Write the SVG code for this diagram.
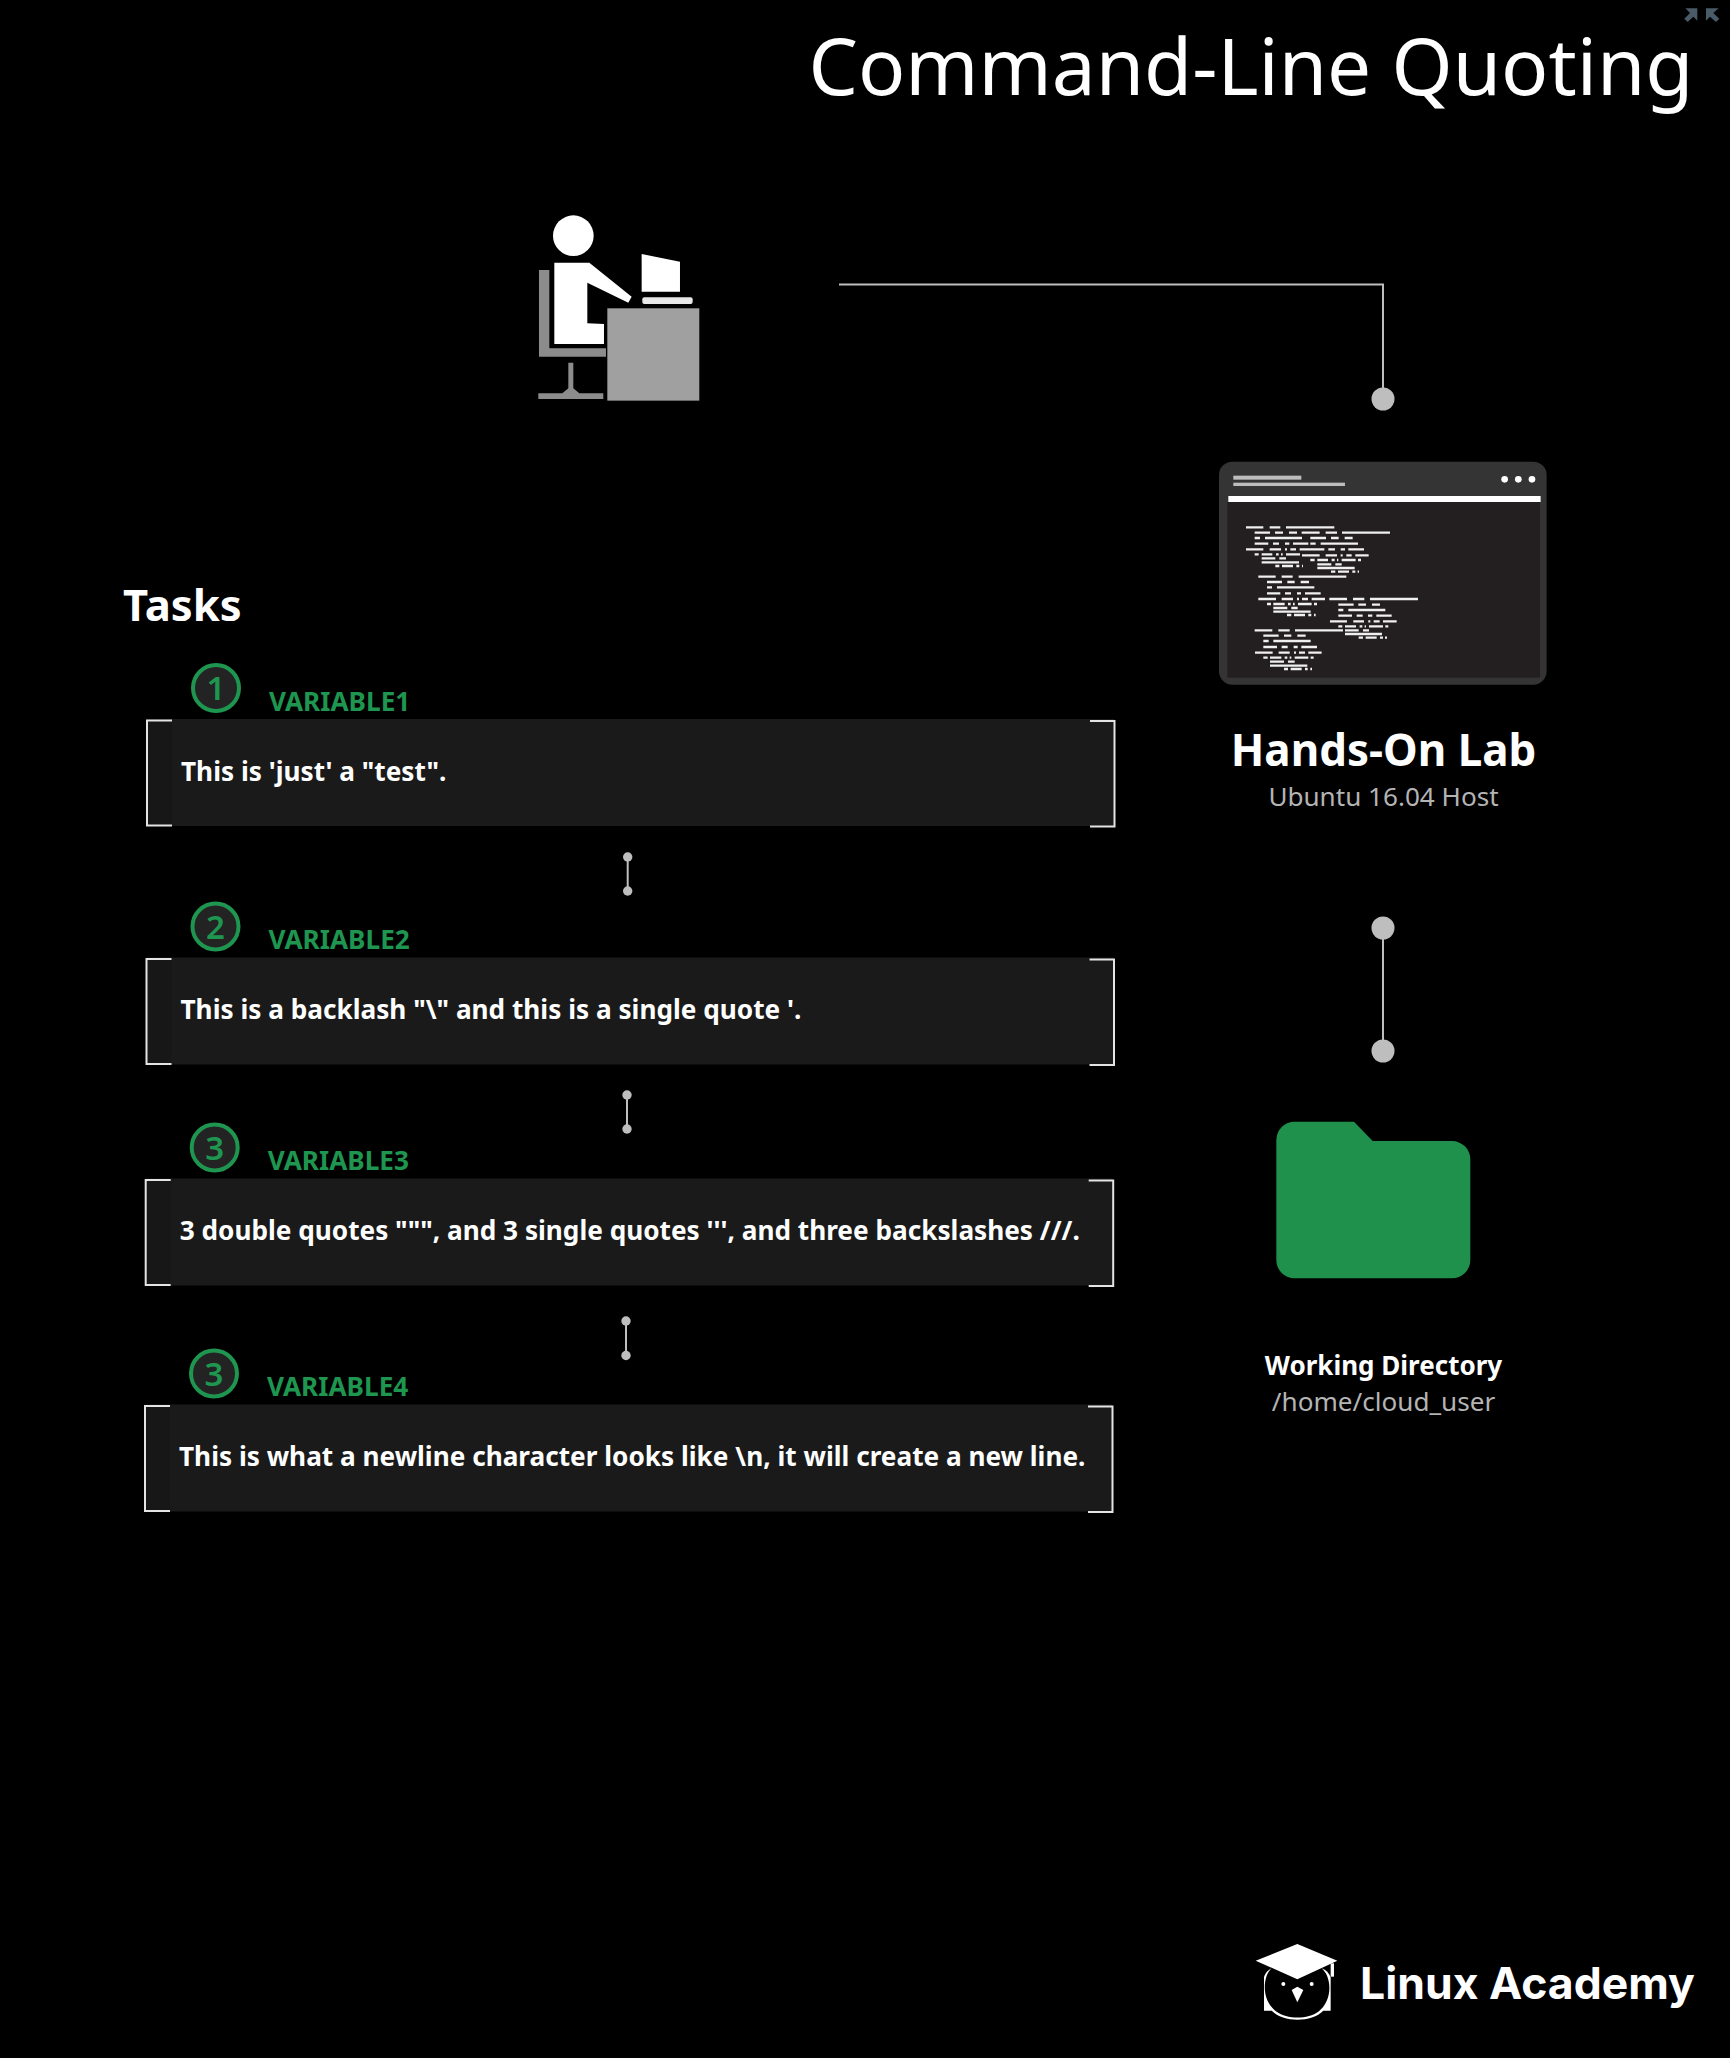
<svg xmlns="http://www.w3.org/2000/svg" width="1730" height="2058" viewBox="0 0 1730 2058">
<style>
text{font-family:"Noto Sans","Open Sans",sans-serif}
.title{font-size:78.300px;fill:#fff}
.tasks{font-size:43.600px;font-weight:700;fill:#fff}
.body{font-size:26.200px;font-weight:700;fill:#fff}
.var{font-size:26.200px;font-weight:700;fill:#1e9650}
.num{font-size:33px;font-weight:600;fill:#1e9650;text-anchor:middle}
.mid{text-anchor:middle}
.h{font-size:43.900px;font-weight:700;fill:#fff}
.sub{font-size:26.100px;fill:#b4b4b4}
.wd{font-size:26px;font-weight:700;fill:#fff}
.brk{fill:none;stroke:#e4e4e4;stroke-width:2}
.conn{fill:none;stroke:#bebebe;stroke-width:2}
.dot{fill:#bebebe}
.cir{fill:#232323;stroke:#1e9650;stroke-width:4}
.band{fill:#1a1a1a}
.edge{fill:#171717}
</style>
<defs>
<g id="box">
<rect class="edge" x="147" y="719" width="26" height="107"/>
<rect class="band" x="172" y="719" width="942" height="107"/>
<path class="brk" d="M172,720.500H147V825.500H172"/>
<path class="brk" d="M1090,721H1114.500V826.500H1090"/>
<circle class="cir" cx="216" cy="688" r="23"/>
</g>
</defs>
<rect width="1730" height="2058" fill="#000"/>
<g id="connectors">
<path class="conn" d="M839,284.500H1383V399"/>
<circle class="dot" cx="1383" cy="399" r="11.500"/>
<path class="conn" d="M1383,928V1051"/>
<circle class="dot" cx="1383" cy="928" r="11.500"/>
<circle class="dot" cx="1383" cy="1051" r="11.500"/>
<path class="conn" d="M627.700,857V891"/>
<circle class="dot" cx="627.700" cy="857" r="4.700"/>
<circle class="dot" cx="627.700" cy="891" r="4.700"/>
<path class="conn" d="M627,1095V1129"/>
<circle class="dot" cx="627" cy="1095" r="4.700"/>
<circle class="dot" cx="627" cy="1129" r="4.700"/>
<path class="conn" d="M626,1321V1355.500"/>
<circle class="dot" cx="626" cy="1321" r="4.700"/>
<circle class="dot" cx="626" cy="1355.500" r="4.700"/>
</g>
<g id="collapse" transform="translate(1640 0) scale(.3333)" fill="#4a5a66">
<path d="M172,25V62L160,50L143,66L133,56L150,39L136,25Z"/>
<path d="M198,25V62L210,50L228,66L238,56L220,39L236,25Z"/>
</g>
<g id="title"><text class="title" x="808.500" y="95">Command-Line Quoting</text></g>
<g id="user" transform="translate(500 180) scale(.3333)">
<circle cx="220" cy="167" r="61" fill="#fff"/>
<path fill="#fff" d="M163,248H268L395,350L385,368L262,308V430L312,432V492H163Z"/>
<path fill="#fff" d="M425,222L540,245V335H425Z"/>
<rect x="427" y="352" width="151" height="20" rx="6" fill="#e8e8e8"/>
<path fill="#8c8c8c" d="M117,270H148V505H318V530H117Z"/>
<path fill="#8c8c8c" d="M205,548H220V625L238,640H310V657H115V640H187L205,625Z"/>
<rect x="322" y="385" width="276" height="277" fill="#a0a0a0"/>
</g>
<g id="terminal" transform="translate(1200 450) scale(.3333)">
<rect x="57" y="35" width="983" height="669" rx="40" fill="#343434"/>
<rect x="82" y="156" width="938" height="527" fill="#231f20"/>
<rect x="85" y="138" width="937" height="18" fill="#fff"/>
<rect x="100" y="77" width="204" height="12" fill="#bdbdbd"/>
<rect x="100" y="98" width="335" height="10" fill="#bdbdbd"/>
<circle cx="914" cy="88" r="10" fill="#fff"/><circle cx="955" cy="88" r="10" fill="#fff"/><circle cx="996" cy="88" r="10" fill="#fff"/>
<path fill="none" stroke="#f0f0f0" stroke-width="7" d="M138,232H190M209,232H241M258,232H403M164,248H210M225,248H249M267,248H291M305,248H359M377,248H411M426,248H570M164,264H180M195,264H306M331,264H378M393,264H416M434,264H458M164,281H205M219,281H237M255,281H268M279,281H325M331,281H347M362,281H474M138,298H190M209,298H243M255,298H261M271,298H288M299,298H373M385,298H405M422,298H435M445,298H492M164,313H176M185,313H217M228,313H236M243,313H248M258,313H300M306,316H359M377,316H411M422,316H428M439,316H455M466,316H506M185,325H226M238,325H258M331,330H344M352,330H384M395,330H404M411,330H415M425,330H467M474,330H483M185,337H297M352,343H394M406,343H425M226,348H238M246,348H279M289,348H298M306,348H309M352,354H464M393,365H406M414,365H447M457,365H466M473,365H477M175,380H227M245,380H278M296,380H439M201,396H246M262,396H284M302,396H327M201,412H216M231,412H343M201,430H241M255,430H273M291,430H303M315,430H362M175,447H228M245,447H279M291,447H297M306,447H324M335,447H375M388,447H441M459,447H493M510,447H654M201,462H213M220,462H254M264,462H272M279,462H284M294,462H335M342,462H351M415,464H461M475,464H498M516,464H540M220,474H262M274,474H293M415,480H430M445,480H556M220,485H332M261,495H274M282,495H315M325,495H334M342,495H347M415,497H456M470,497H488M504,497H517M529,497H575M390,514H441M460,514H492M505,514H511M521,514H539M549,514H590M415,529H427M435,529H468M479,529H487M494,529H498M507,529H549M556,529H565M164,541H217M235,541H269M285,541H429M435,541H476M489,541H507M435,552H546M190,557H236M252,557H274M292,557H317M476,563H489M497,563H530M540,563H549M555,563H561M190,573H206M220,573H332M190,591H231M245,591H263M281,591H293M304,591H351M165,608H218M236,608H269M282,608H288M297,608H315M325,608H365M190,623H203M210,623H244M254,623H262M269,623H274M284,623H325M332,623H341M210,635H252M264,635H284M210,647H322M252,657H264M272,657H305M315,657H323M331,657H336"/>
</g>
<g id="lab">
<text class="h mid" x="1383.500" y="766">Hands-On Lab</text>
<text class="sub mid" x="1383.500" y="805.500">Ubuntu 16.04 Host</text>
</g>
<g id="folder" transform="translate(1250 1100) scale(.3333)">
<path fill="#1f914d" d="M134,65H312L368,123H606A55,55 0 0 1 661,178V480A55,55 0 0 1 606,535H134A55,55 0 0 1 79,480V120A55,55 0 0 1 134,65Z"/>
</g>
<g id="workdir">
<text class="wd mid" x="1383.500" y="1374.500">Working Directory</text>
<text class="sub mid" x="1383.500" y="1411">/home/cloud_user</text>
</g>
<g id="tasks-heading"><text class="tasks" x="123" y="621">Tasks</text></g>
<g id="task1">
<use href="#box"/>
<text class="num" x="216" y="700">1</text>
<text class="var" x="269" y="711">VARIABLE1</text>
<text class="body" x="181" y="781">This is 'just' a "test".</text>
</g>
<g id="task2" transform="translate(-.5 238.500)">
<use href="#box"/>
<text class="num" x="216" y="700">2</text>
<text class="var" x="269" y="710">VARIABLE2</text>
<text class="body" x="181" y="780">This is a backlash "\" and this is a single quote '.</text>
</g>
<g id="task3" transform="translate(-1.300 459.500)">
<use href="#box"/>
<text class="num" x="216" y="700">3</text>
<text class="var" x="269" y="710">VARIABLE3</text>
<text class="body" x="181" y="780">3 double quotes """, and 3 single quotes ''', and three backslashes ///.</text>
</g>
<g id="task4" transform="translate(-2 685.500)">
<use href="#box"/>
<text class="num" x="216" y="700">3</text>
<text class="var" x="269" y="710">VARIABLE4</text>
<text class="body" x="181" y="780.500">This is what a newline character looks like \n, it will create a new line.</text>
</g>
<g id="logo">
<g transform="translate(1240 1920) scale(.3333)">
<path fill="#fff" d="M72,172C75,160 85,150 95,145C70,165 60,240 110,275C140,298 205,298 235,275C280,240 275,170 245,145C258,150 268,160 272,172V272H250C215,308 130,308 95,272H72Z"/>
<path fill="#fff" d="M47,122L172,72L292,122L172,178Z"/>
<rect x="272" y="130" width="10" height="40" fill="#fff"/>
<circle cx="130" cy="192" r="6" fill="#fff"/><circle cx="215" cy="192" r="6" fill="#fff"/>
<path fill="#fff" d="M155,210L172,200L190,210L172,247Z"/>
</g>
<text x="1360" y="1998.500" font-size="44.500" font-weight="700" fill="#fff" style="font-family:Inter,'Noto Sans',sans-serif">Linux Academy</text>
</g>
</svg>
